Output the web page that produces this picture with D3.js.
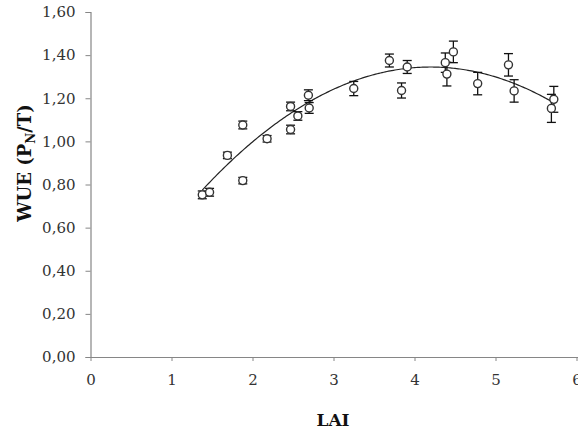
<!DOCTYPE html>
<html>
<head>
<meta charset="utf-8">
<script src="https://cdn.jsdelivr.net/npm/d3@7"></script>
<style>
  html, body { margin: 0; padding: 0; background: #fff; }
  svg { display: block; }
</style>
</head>
<body>
<svg id="chart" width="578" height="432"></svg>
<script>
// ---- data ----
const lai = [1.38, 1.47, 1.69, 1.88, 1.88, 2.18, 2.47, 2.47, 2.56, 2.69, 2.70, 3.25, 3.69, 3.84, 3.91, 4.38, 4.40, 4.48, 4.78, 5.16, 5.23, 5.72, 5.69];
const wue = [0.752, 0.764, 0.935, 0.818, 1.076, 1.012, 1.055, 1.162, 1.118, 1.214, 1.155, 1.245, 1.375, 1.236, 1.345, 1.365, 1.312, 1.415, 1.268, 1.355, 1.234, 1.195, 1.153];
const wueErr = [0.018, 0.018, 0.015, 0.015, 0.018, 0.015, 0.02, 0.02, 0.02, 0.025, 0.025, 0.033, 0.03, 0.035, 0.03, 0.045, 0.055, 0.05, 0.052, 0.052, 0.052, 0.06, 0.065];
// polynomial trendline y = c0 + c1*x + c2*x^2
const trendCoef = [0.0784, 0.6031, -0.0718];
const trendRange = [1.38, 5.72];
const xTicks = [0, 1, 2, 3, 4, 5, 6];
const yTicks = [0, 0.2, 0.4, 0.6, 0.8, 1.0, 1.2, 1.4, 1.6];
const xTitle = "LAI";

const SERIF = "DejaVu Serif";

// ---- scales ----
const svg = d3.select("#chart");
const x = d3.scaleLinear().domain([0, 6]).range([90.5, 576.5]);
const y = d3.scaleLinear().domain([0, 1.6]).range([357, 12]);
const axisColor = "#868686";
const fmt = v => d3.format(".2f")(v).replace(".", ",");

// ---- axes ----
const yAxis = svg.append("g").attr("transform", `translate(${x(0)},0)`)
  .call(d3.axisLeft(y).tickValues(yTicks).tickSize(5).tickPadding(10).tickFormat(fmt));
const xAxis = svg.append("g").attr("transform", `translate(0,${y(0)})`)
  .call(d3.axisBottom(x).tickValues(xTicks).tickSize(4).tickPadding(13).tickFormat(d3.format("d")));
[xAxis, yAxis].forEach(g => {
  g.attr("font-family", SERIF).attr("font-size", 15);
  g.select(".domain").attr("stroke", axisColor).attr("stroke-width", 1.2);
  g.selectAll(".tick line").attr("stroke", axisColor).attr("stroke-width", 1);
  g.selectAll(".tick text").attr("fill", "#333");
});
// extend x axis to the right edge
xAxis.select(".domain").attr("d", `M${x(0)},0.5H578`);

// ---- trendline ----
const trendFn = v => trendCoef[0] + trendCoef[1] * v + trendCoef[2] * v * v;
const trendPts = d3.range(trendRange[0], trendRange[1] + 1e-9, 0.02).map(v => [v, trendFn(v)]);
svg.append("path")
  .attr("d", d3.line().x(d => x(d[0])).y(d => y(d[1]))(trendPts))
  .attr("fill", "none").attr("stroke", "#222").attr("stroke-width", 1.2);

// ---- error bars ----
const pts = lai.map((v, i) => ({ x: v, y: wue[i], e: wueErr[i] }));
const eb = svg.append("g").attr("stroke", "#111").attr("stroke-width", 1.3);
pts.forEach(p => {
  eb.append("line").attr("x1", x(p.x)).attr("x2", x(p.x)).attr("y1", y(p.y - p.e)).attr("y2", y(p.y + p.e));
  [p.y - p.e, p.y + p.e].forEach(v => {
    eb.append("line").attr("x1", x(p.x) - 4.5).attr("x2", x(p.x) + 4.5).attr("y1", y(v)).attr("y2", y(v));
  });
});

// ---- points ----
svg.append("g").selectAll("circle").data(pts).join("circle")
  .attr("cx", d => x(d.x)).attr("cy", d => y(d.y)).attr("r", 4)
  .attr("fill", "#fff").attr("stroke", "#333").attr("stroke-width", 1.4);

// ---- titles ----
svg.append("text").attr("x", 333).attr("y", 426).attr("text-anchor", "middle")
  .attr("font-family", SERIF).attr("font-size", 17).attr("font-weight", "bold")
  .attr("fill", "#111").text(xTitle);
const yt = svg.append("text").attr("transform", "translate(31,163) rotate(-90)").attr("text-anchor", "middle")
  .attr("font-family", SERIF).attr("font-size", 18).attr("font-weight", "bold")
  .attr("fill", "#111");
yt.append("tspan").text("WUE (P");
yt.append("tspan").attr("font-size", 12).attr("dy", 4).text("N");
yt.append("tspan").attr("dy", -4).text("/T)");
</script>
</body>
</html>
